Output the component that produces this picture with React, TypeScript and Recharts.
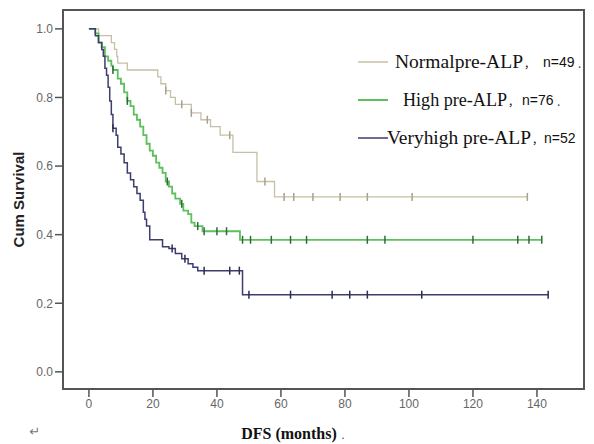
import React from 'react';
import { ComposedChart, Line, Scatter, XAxis, YAxis, ReferenceArea } from 'recharts';

// Kaplan-Meier steps (time in months, cumulative survival)
const normalTimes = [0, 3, 7, 8, 8.7, 9, 12, 21.5, 22.5, 24, 25.5, 27, 32, 35, 38, 41, 45, 52.5, 58];
const normalSurv = [1.0, 0.98, 0.96, 0.94, 0.92, 0.9, 0.88, 0.86, 0.84, 0.82, 0.8, 0.78, 0.755, 0.735, 0.715, 0.69, 0.64, 0.555, 0.51];
const normalCensor = [24, 29, 32, 37, 44, 55, 61, 64, 70, 78.5, 87, 101, 137];
const normalEnd = 137;

const highTimes = [0, 2, 3, 4, 5, 6, 7, 7.5, 9, 10, 11, 12, 13, 14, 15, 16, 17, 18, 19, 20, 21, 22, 23, 24, 25, 26, 27, 28.5, 29.5, 31, 32, 33, 35.5, 47.2];
const highSurv = [1.0, 0.987, 0.96, 0.947, 0.92, 0.907, 0.893, 0.88, 0.855, 0.84, 0.815, 0.79, 0.775, 0.75, 0.735, 0.715, 0.69, 0.665, 0.645, 0.63, 0.61, 0.595, 0.58, 0.555, 0.54, 0.52, 0.505, 0.49, 0.47, 0.46, 0.435, 0.425, 0.41, 0.385];
const highCensor = [7.5, 12, 24.5, 29, 34, 36, 40, 43, 48, 50.5, 57, 63, 68, 87, 92.5, 120, 134, 137.5, 141.5];
const highEnd = 141.5;

const veryTimes = [0, 2, 3, 4, 4.5, 5, 5.5, 6, 6.5, 7, 7.5, 8.5, 9, 10, 11, 12, 13, 14, 15, 16, 17, 17.5, 18, 19, 23, 25, 27, 29, 31, 32.5, 34, 48];
const verySurv = [1.0, 0.98, 0.96, 0.94, 0.92, 0.885, 0.865, 0.83, 0.79, 0.75, 0.71, 0.69, 0.655, 0.635, 0.61, 0.58, 0.56, 0.54, 0.52, 0.5, 0.465, 0.445, 0.425, 0.385, 0.365, 0.36, 0.345, 0.33, 0.315, 0.305, 0.295, 0.225];
const veryCensor = [7.5, 26, 30, 36, 44, 47, 50, 63, 76, 81.5, 87, 104, 143.5];
const veryEnd = 143.5;

const xTicks = [0, 20, 40, 60, 80, 100, 120, 140];
const yTicks = [0, 0.2, 0.4, 0.6, 0.8, 1.0];

const legendLabels = ['Normalpre-ALP', 'High pre-ALP', 'Veryhigh pre-ALP'];
const legendN = ['n=49', 'n=76', 'n=52'];
const legendTail = ['．', '．', ''];

const X_MIN = -8.1;
const X_MAX = 154.7;
const Y_MIN = -0.05;
const Y_MAX = 1.055;

function stepLine(times: number[], surv: number[], end: number) {
  const pts = times.map((t, i) => ({ t, s: surv[i] }));
  pts.push({ t: end, s: surv[surv.length - 1] });
  return pts;
}

function survAt(times: number[], surv: number[], t: number) {
  let s = surv[0];
  for (let i = 0; i < times.length; i++) {
    if (times[i] <= t) s = surv[i];
  }
  return s;
}

function censorPoints(times: number[], surv: number[], cens: number[]) {
  return cens.map((t) => ({ t, s: survAt(times, surv, t) }));
}

const makeTick = (color: string) => (props: any) => {
  const { cx, cy } = props;
  return <line x1={cx} x2={cx} y1={cy - 4} y2={cy + 4} stroke={color} strokeWidth={1.5} />;
};

const colors = ['#c6c0a6', '#5cc05c', '#3d3d6e'];
const tickColors = ['#a8a28a', '#2f6a3a', '#2c2c55'];

export default function App() {
  const normalLine = stepLine(normalTimes, normalSurv, normalEnd);
  const highLine = stepLine(highTimes, highSurv, highEnd);
  const veryLine = stepLine(veryTimes, verySurv, veryEnd);

  const legendTextX = [395, 403, 387];
  const legendTextW = [128, 104, 144];
  const legendNX = [543, 522, 544];
  const legendTailX = [577, 556, 0];

  return (
    <div style={{ position: 'absolute', left: 0, top: 0, width: 594, height: 444, background: '#fff' }}>
      <ComposedChart width={594} height={444} margin={{ top: 10, right: 10, bottom: 25, left: 0 }}>
        <XAxis
          dataKey="t"
          type="number"
          domain={[X_MIN, X_MAX]}
          ticks={xTicks}
          allowDataOverflow
          height={30}
          axisLine={false}
          tickSize={8}
          tickMargin={2}
          tickLine={{ stroke: '#555', strokeWidth: 1.5 }}
          tick={{ fill: '#666', fontSize: 12, fontFamily: 'Liberation Sans, Arial, sans-serif' }}
        />
        <YAxis
          dataKey="s"
          type="number"
          domain={[Y_MIN, Y_MAX]}
          ticks={yTicks}
          allowDataOverflow
          width={63}
          axisLine={false}
          tickSize={8}
          tickMargin={2}
          tickFormatter={(v: number) => v.toFixed(1)}
          tickLine={{ stroke: '#555', strokeWidth: 1.5 }}
          tick={{ fill: '#666', fontSize: 12, fontFamily: 'Liberation Sans, Arial, sans-serif' }}
          label={{
            value: 'Cum Survival',
            angle: -90,
            position: 'center',
            dx: -13,
            style: { fill: '#222', fontSize: 15, fontWeight: 'bold', fontFamily: 'Liberation Sans, Arial, sans-serif' },
          }}
        />
        <ReferenceArea
          x1={X_MIN}
          x2={X_MAX}
          y1={Y_MIN}
          y2={Y_MAX}
          fill="none"
          stroke="#555"
          strokeWidth={2}
          ifOverflow="visible"
        />
        <Line data={normalLine} dataKey="s" type="stepAfter" stroke={colors[0]} strokeWidth={1.3} dot={false} isAnimationActive={false} />
        <Line data={highLine} dataKey="s" type="stepAfter" stroke={colors[1]} strokeWidth={1.8} dot={false} isAnimationActive={false} />
        <Line data={veryLine} dataKey="s" type="stepAfter" stroke={colors[2]} strokeWidth={1.5} dot={false} isAnimationActive={false} />
        <Scatter data={censorPoints(normalTimes, normalSurv, normalCensor)} dataKey="s" shape={makeTick(tickColors[0])} isAnimationActive={false} />
        <Scatter data={censorPoints(highTimes, highSurv, highCensor)} dataKey="s" shape={makeTick(tickColors[1])} isAnimationActive={false} />
        <Scatter data={censorPoints(veryTimes, verySurv, veryCensor)} dataKey="s" shape={makeTick(tickColors[2])} isAnimationActive={false} />
      </ComposedChart>
      <svg width={594} height={444} style={{ position: 'absolute', left: 0, top: 0, pointerEvents: 'none' }}>
        {legendLabels.map((lab, i) => {
          const y = 62 + i * 38;
          return (
            <g key={lab}>
              <line x1={358} x2={388} y1={y} y2={y} stroke={colors[i]} strokeWidth={i === 1 ? 2 : 1.5} />
              <text
                x={legendTextX[i]}
                y={y + 6}
                textLength={legendTextW[i]}
                lengthAdjust="spacingAndGlyphs"
                fontFamily="Liberation Serif, Times New Roman, serif"
                fontSize={18}
                fill="#111"
              >
                {lab}
              </text>
              <text
                x={legendTextX[i] + legendTextW[i] + 1}
                y={y + 6}
                fontFamily="Noto Sans CJK SC, sans-serif"
                fontSize={11}
                fill="#111"
              >
                ，
              </text>
              <text x={legendNX[i]} y={y + 5} fontFamily="Liberation Sans, Arial, sans-serif" fontSize={14} fill="#111">
                {legendN[i]}
              </text>
              {legendTail[i] && (
                <text x={legendTailX[i]} y={y + 6} fontFamily="Noto Sans CJK SC, serif" fontSize={11} fill="#555">
                  {legendTail[i]}
                </text>
              )}
            </g>
          );
        })}
        <text x={35} y={436} fontFamily="DejaVu Sans, sans-serif" fontSize={13} fill="#777" textAnchor="middle">
          ↵
        </text>
        <text
          x={295}
          y={439}
          textAnchor="middle"
          fontFamily="Liberation Serif, Times New Roman, serif"
          fontWeight="bold"
          fontSize={16}
          fill="#111"
        >
          DFS (months)<tspan fontSize={12} fontWeight="normal" fill="#555">．</tspan>
        </text>
      </svg>
    </div>
  );
}
